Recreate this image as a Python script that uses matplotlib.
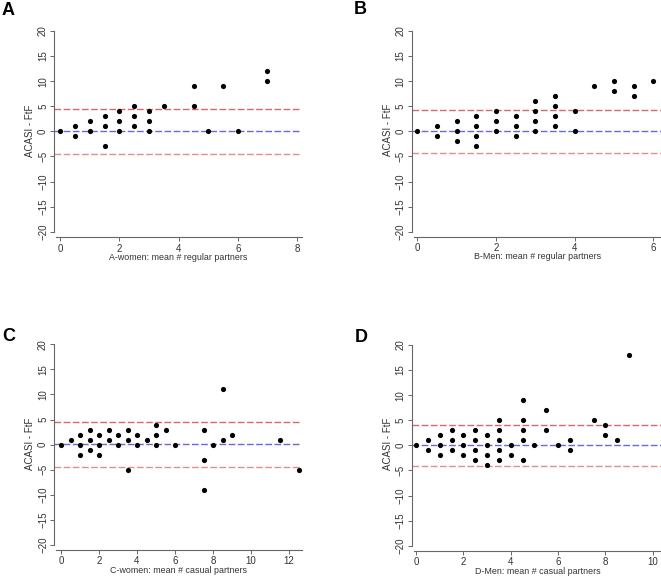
import numpy as np
import matplotlib
matplotlib.use('Agg')
import matplotlib.pyplot as plt

plt.rcParams['font.family'] = ['Liberation Sans', 'DejaVu Sans']

######### data (ACASI - FtF differences)
a_x = [0, 0.5, 0.5, 1, 1, 1.5, 1.5, 1.5, 2, 2, 2, 2.5, 2.5, 2.5, 3, 3, 3, 3.5, 4.5, 4.5, 5, 5.5, 6, 7, 7]
a_y = [0, 1, -1, 2, 0, 3, 1, -3, 4, 2, 0, 5, 3, 1, 4, 2, 0, 5, 9, 5, 0, 9, 0, 12, 10]

b_x = [0, 0.5, 0.5, 1, 1, 1, 1.5, 1.5, 1.5, 1.5, 2, 2, 2, 2.5, 2.5, 2.5, 3, 3, 3, 3,
       3.5, 3.5, 3.5, 3.5, 4, 4, 4.5, 5, 5, 5.5, 5.5, 6]
b_y = [0, 1, -1, 2, 0, -2, 3, 1, -1, -3, 4, 2, 0, 3, 1, -1, 6, 4, 2, 0,
       7, 5, 3, 1, 4, 0, 9, 10, 8, 9, 7, 10]

c_x = [0, 0.5, 1, 1, 1, 1.5, 1.5, 1.5, 2, 2, 2, 2.5, 2.5, 3, 3, 3.5, 3.5, 3.5, 4, 4,
       4.5, 5, 5, 5, 5.5, 6, 7.5, 7.5, 7.5, 8, 8.5, 8.5, 9, 11.5, 12.5]
c_y = [0, 1, 2, 0, -2, 3, 1, -1, 2, 0, -2, 3, 1, 2, 0, 3, 1, -5, 2, 0,
       1, 4, 2, 0, 3, 0, 3, -3, -9, 0, 11, 1, 2, 1, -5]

d_x = [0, 0.5, 0.5, 1, 1, 1, 1.5, 1.5, 1.5, 2, 2, 2, 2.5, 2.5, 2.5, 2.5, 3, 3, 3, 3,
       3.5, 3.5, 3.5, 3.5, 3.5, 4, 4, 4.5, 4.5, 4.5, 4.5, 4.5, 5, 5.5, 5.5, 6,
       6.5, 6.5, 7.5, 8, 8, 8.5, 9]
d_y = [0, 1, -1, 2, 0, -2, 3, 1, -1, 2, 0, -2, 3, 1, -1, -3, 2, 0, -2, -4,
       5, 3, 1, -1, -3, 0, -2, 9, 5, 3, 1, -3, 0, 7, 3, 0,
       1, -1, 5, 4, 2, 1, 18]

# mean difference and limits of agreement (upper, mean, lower)
a_lines = [4.5, 0.05, -4.45]
b_lines = [4.3, 0.0, -4.3]
c_lines = [4.6, 0.05, -4.45]
d_lines = [4.15, 0.0, -4.05]

letters = ['A', 'B', 'C', 'D']
xlabels = ['A-women: mean # regular partners', 'B-Men: mean # regular partners',
           'C-women: mean # casual partners', 'D-Men: mean # casual partners']
xticks_list = [[0, 2, 4, 6, 8], [0, 2, 4, 6], [0, 2, 4, 6, 8, 10, 12], [0, 2, 4, 6, 8, 10]]
yticks = [-20, -15, -10, -5, 0, 5, 10, 15, 20]

######### layout in pixels: spine x, px of x=0, px per x unit, right px, px of y=20, px of y=-20, px of x line
W, H = 661, 576
layout = [
    (54.3, 60.3, 29.6, 302.0, 31.0, 231.7, 237.3),
    (411.7, 417.3, 39.33, 663.0, 31.0, 231.7, 236.7),
    (54.3, 61.0, 19.0, 302.0, 344.3, 545.0, 550.0),
    (411.7, 416.0, 23.67, 663.0, 345.0, 545.7, 551.0),
]
letter_pos = [(8.5, 10.5), (360, 9.5), (9, 336.5), (361, 338)]

fig = plt.figure(figsize=(W / 100, H / 100), dpi=100)
fig.patch.set_facecolor('white')

datasets = [(a_x, a_y, a_lines), (b_x, b_y, b_lines), (c_x, c_y, c_lines), (d_x, d_y, d_lines)]
red = '#d66a6a'
blue = '#6a6ad0'
spine_col = '#666666'
txt_col = '#333333'

for i, (xs, ys, lines) in enumerate(datasets):
    sx, x0, kx, rx, y20, ym20, yb = layout[i]
    ky = (ym20 - y20) / 40.0
    y0 = (y20 + ym20) / 2
    top = y20 - 1.5 * ky
    ax = fig.add_axes([sx / W, 1 - yb / H, (rx - sx) / W, (yb - top) / H])
    ax.set_xlim((sx - x0) / kx, (rx - x0) / kx)
    ax.set_ylim((y0 - yb) / ky, (y0 - top) / ky)
    ax.patch.set_alpha(0)

    ax.axhline(lines[0], color=red, lw=1.0, ls=(0, (4.8, 1.8)), zorder=1)
    ax.axhline(lines[1], color=blue, lw=1.0, ls=(0, (4.8, 1.8)), zorder=1)
    ax.axhline(lines[2], color=red, lw=1.0, ls=(0, (4.8, 1.8)), zorder=1, alpha=0.75)
    ax.scatter(xs, ys, s=14, color='black', zorder=3, linewidths=0)

    for s in ['top', 'right']:
        ax.spines[s].set_visible(False)
    ax.spines['left'].set_bounds(-20, 20)
    ax.spines['left'].set_color(spine_col)
    ax.spines['bottom'].set_color(spine_col)
    ax.spines['left'].set_linewidth(0.8)
    ax.spines['bottom'].set_linewidth(0.8)
    xl = ax.get_xlim()
    ax.spines['bottom'].set_bounds(xl[0] + 2.0 / kx, xl[1])

    ax.set_xticks(xticks_list[i])
    ax.set_yticks(yticks)
    ax.tick_params(axis='both', direction='out', length=3, width=0.7, color=spine_col,
                   labelsize=7, labelcolor=txt_col, pad=1.5)
    for lab in ax.get_yticklabels():
        lab.set_rotation(90)
        lab.set_va('center')
    ax.set_ylabel('ACASI - FtF', fontsize=7, color=txt_col, labelpad=2)
    ax.set_xlabel(xlabels[i], fontsize=6.4, color=txt_col, labelpad=-0.5)

    lx, ly = letter_pos[i]
    fig.text(lx / W, 1 - ly / H, letters[i], fontsize=13, fontweight='bold',
             ha='center', va='center', color='black')

fig.savefig('out.png', dpi=100, facecolor='white')
